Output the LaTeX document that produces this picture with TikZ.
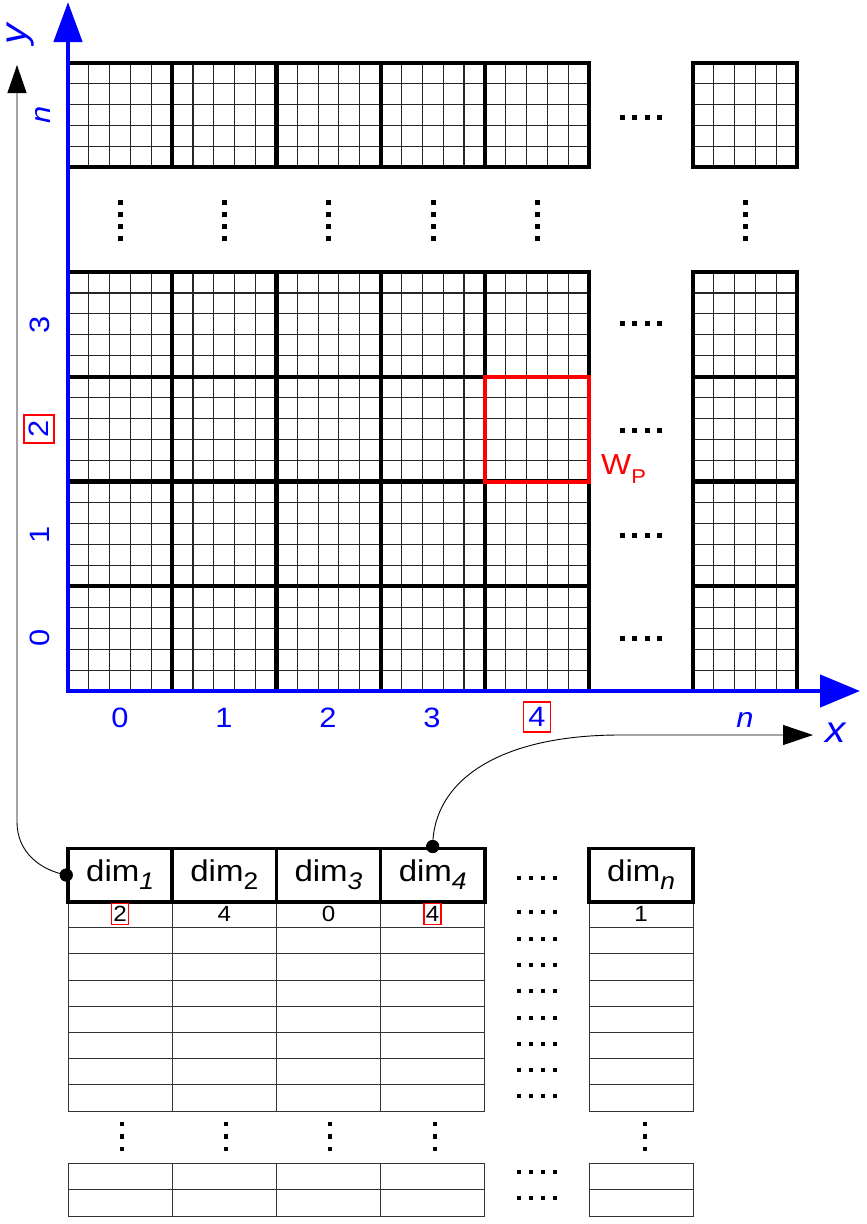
\documentclass[tikz,border=0pt]{standalone}
\usepackage{fontspec}
\setmainfont{Liberation Sans}[FakeStretch=1.1]
\usetikzlibrary{arrows.meta}
\definecolor{axblue}{RGB}{0,0,255}
\definecolor{mred}{RGB}{255,0,0}
\newcommand{\fs}[1]{\fontsize{#1}{#1}\selectfont}
\newcommand{\dimlabel}[1]{dim\raisebox{-0.26em}{\fs{24}#1}}
% horizontal row of 4 square dots: x0, ycenter, size, spacing
\newcommand{\hdotsq}[4]{\foreach \d in {0,1,2,3} \fill ({#1+\d*#4},{#2-#3/2}) rectangle +(#3,#3);}
% vertical column of square dots: xcenter, first ycenter, size, spacing, count
\newcommand{\vdotsq}[5]{\foreach \d in {1,...,#5} \fill ({#1-#3/2},{#2+(\d-1)*#4-#3/2}) rectangle +(#3,#3);}
\begin{document}
\begin{tikzpicture}[x=1pt,y=-1pt,
  fine/.style={line width=1.1pt, draw=black!85},
  blockbox/.style={line width=4.2pt, draw=black},
  cell/.style={line width=1pt, draw=black!80},
  hdr/.style={draw, line width=3.5pt, minimum width=104.2pt, minimum height=53.5pt, inner sep=0pt, font=\fs{30}},
  val/.style={inner sep=0pt, font=\fs{22}},
  redbox/.style={draw=mred, line width=1.7pt, minimum width=17pt, minimum height=21pt},
  axlab/.style={text=axblue, font=\fs{28}, inner sep=0pt},
  joint/.style={circle, fill=black, inner sep=0pt, minimum size=13pt},
  conn/.style={line width=0.9pt, draw=black, -{Triangle[width=19pt,length=28pt]}},
  conntwo/.style={line width=0.9pt, draw=black, -{Triangle[width=20pt,length=30pt]}}
]
\useasboundingbox (0,0) rectangle (867,1224);

% ---------- fine grid ----------
\foreach \k in {1,...,24} {
  \draw[fine] ({68+\k*20.84},272) -- ({68+\k*20.84},691);
  \draw[fine] ({68+\k*20.84},63) -- ({68+\k*20.84},167.2);
}
\foreach \k in {1,...,19} \draw[fine] (68,{272+\k*20.95}) -- (589,{272+\k*20.95});
\foreach \k in {1,...,4} \draw[fine] (68,{63+\k*20.84}) -- (589,{63+\k*20.84});
\foreach \k in {1,...,4} {
  \draw[fine] ({693+\k*20.84},272) -- ({693+\k*20.84},691);
  \draw[fine] ({693+\k*20.84},63) -- ({693+\k*20.84},167.2);
  \draw[fine] (693,{63+\k*20.84}) -- (797.2,{63+\k*20.84});
}
\foreach \k in {1,...,19} \draw[fine] (693,{272+\k*20.95}) -- (797.2,{272+\k*20.95});

% ---------- blocks ----------
\foreach \i in {0,...,4} {
  \draw[blockbox] ({68+\i*104.2},63) rectangle +(104.2,104.2);
  \foreach \j in {0,...,3} \draw[blockbox] ({68+\i*104.2},{272+\j*104.75}) rectangle +(104.2,104.75);
}
\draw[blockbox] (693,63) rectangle +(104.2,104.2);
\foreach \j in {0,...,3} \draw[blockbox] (693,{272+\j*104.75}) rectangle +(104.2,104.75);

% red window
\draw[line width=4pt, mred] (484.8,376.75) rectangle (589,481.5);
\node[text=mred, font=\fs{29}, anchor=west, inner sep=0pt] (wp) at (601,469) {W\raisebox{-0.3em}{\fs{20}P}};

% dots in grid area
\foreach \yc in {117,323,430,535,638} \hdotsq{620}{\yc}{5}{12.3};
\foreach \xc in {120,224,328,433,537,745} \vdotsq{\xc}{202}{5}{12}{4};

% ---------- axes ----------
\coordinate (O) at (68,691);
\coordinate (ytop) at (68,2);
\coordinate (xright) at (860,691);
\draw[line width=4.5pt, axblue, line join=miter,
  {Triangle[width=28pt,length=40pt]}-{Triangle[width=32pt,length=40pt]}] (ytop) -- (O) -- (xright);

\node[axlab] (x0) at (120,718) {0};
\node[axlab] (x1) at (224,718) {1};
\node[axlab] (x2) at (328,718) {2};
\node[axlab] (x3) at (432,718) {3};
\node[axlab, draw=mred, line width=1.8pt, minimum width=27pt, minimum height=30pt] (x4) at (537,717) {4};
\node[axlab, font=\fs{28}\itshape] (xn) at (745,720) {n};
\node[axlab, font=\fs{37}\itshape] (xlab) at (836,733) {x};

\node[axlab, rotate=90] (y0) at (40,638) {0};
\node[axlab, rotate=90] (y1) at (40,535) {1};
\node[axlab, rotate=90, draw=mred, line width=1.8pt, minimum width=28pt, minimum height=30pt] (y2) at (39,429) {2};
\node[axlab, rotate=90] (y3) at (40,325) {3};
\node[axlab, rotate=90, font=\fs{28}\itshape] (yn) at (43,115) {n};
\node[axlab, rotate=90, font=\fs{37}\itshape] (ylab) at (21,34) {y};

% ---------- table ----------
\foreach \xx in {68,172.2,276.4,380.6,589} {
  \foreach \r in {0,...,7} \draw[cell] (\xx,{901.5+\r*26.2}) rectangle +(104.2,26.2);
  \foreach \r in {0,1} \draw[cell] (\xx,{1163+\r*26.5}) rectangle +(104.2,26.5);
}
\node[hdr] (d1) at (120.1,875) {\dimlabel{\itshape 1}};
\node[hdr] (d2) at (224.3,875) {\dimlabel{2}};
\node[hdr] (d3) at (328.5,875) {\dimlabel{\itshape 3}};
\node[hdr] (d4) at (432.7,875) {\dimlabel{\itshape 4}};
\node[hdr] (dn) at (641.1,875) {\dimlabel{\itshape n}};

\node[val, redbox] (v1) at (120.1,914) {2};
\node[val] (v2) at (224.3,914) {4};
\node[val] (v3) at (328.5,914) {0};
\node[val, redbox] (v4) at (432.7,914) {4};
\node[val] (vn) at (641.1,914) {1};

\foreach \yc in {878,912,939,965,991,1018,1044,1070,1096,1172,1198} \hdotsq{517}{\yc}{3.8}{12};
\foreach \xc in {122,226,330,435,645} \vdotsq{\xc}{1124}{4.2}{12.5}{3};

% ---------- connectors ----------
\node[joint] (p1) at (d1.west) {};
\node[joint] (p4) at (d4.north) {};
\coordinate (ybend) at (17,822);
\coordinate (ytip) at (17,65);
\coordinate (xbend) at (620,735);
\coordinate (xtip) at (813,735);
\draw[conn] (p1.center) .. controls (40,870) and (17,852) .. (ybend) -- (ytip);
\draw[conntwo] (p4.center) .. controls (433,780) and (500,735) .. (xbend) -- (xtip);
\node[joint] at (p1) {};
\node[joint] at (p4) {};
\end{tikzpicture}
\end{document}
